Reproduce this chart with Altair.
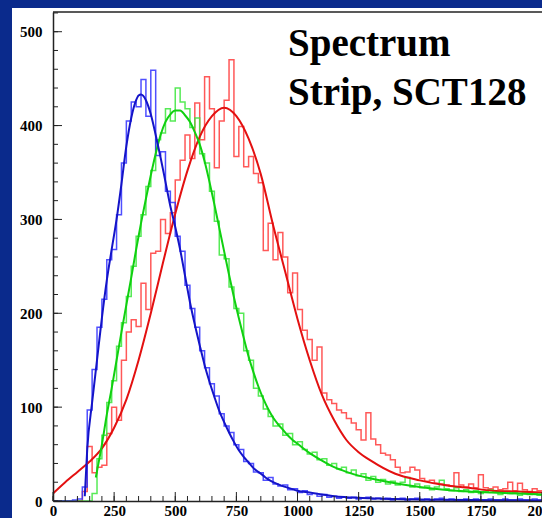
import altair as alt
import pandas as pd

# ---------------- data ----------------
bin_left = list(range(0, 2000, 20))   # 20-unit bins, 0 .. 1980
x_end = 2000

blue_counts = [
    0, 0, 0, 0, 1, 2, 15, 97, 140, 185,
    215, 257, 268, 305, 360, 405, 425, 420, 449, 410,
    459, 368, 372, 330, 318, 282, 266, 230, 205, 185,
    160, 142, 125, 112, 93, 80, 73, 60, 55, 42,
    40, 31, 30, 22, 25, 18, 16, 17, 12, 13,
    9, 11, 7, 8, 5, 7, 4, 5, 3, 4,
    3, 4, 2, 3, 4, 2, 3, 2, 3, 1,
    2, 3, 1, 2, 3, 1, 2, 1, 2, 3,
    1, 2, 1, 1, 2, 1, 2, 1, 1, 2,
    1, 1, 2, 1, 1, 2, 1, 1, 2, 1,
]
green_counts = [
    0, 0, 0, 0, 0, 0, 0, 0, 8, 45,
    70, 105, 128, 165, 190, 218, 250, 282, 305, 335,
    352, 385, 392, 418, 405, 440, 425, 418, 398, 408,
    370, 360, 330, 298, 262, 258, 228, 205, 200, 160,
    150, 120, 112, 98, 90, 80, 82, 70, 72, 60,
    63, 55, 50, 52, 44, 45, 38, 40, 34, 36,
    30, 33, 27, 29, 22, 26, 20, 23, 18, 21,
    17, 20, 25, 15, 18, 14, 16, 12, 15, 22,
    13, 11, 14, 10, 12, 9, 11, 8, 10, 12,
    9, 7, 10, 8, 9, 6, 9, 7, 8, 6,
]
red_counts = [
    0, 0, 0, 0, 0, 0, 10, 58, 30, 36,
    38, 72, 100, 86, 150, 180, 193, 186, 232, 204,
    264, 266, 300, 285, 307, 342, 363, 390, 365, 424,
    385, 452, 418, 355, 405, 427, 470, 367, 399, 356,
    367, 349, 339, 267, 296, 257, 286, 260, 222, 243,
    204, 182, 172, 150, 164, 115, 108, 104, 97, 94,
    88, 83, 76, 65, 94, 66, 60, 51, 49, 44,
    36, 30, 31, 36, 33, 24, 21, 22, 19, 18,
    17, 16, 30, 17, 15, 18, 14, 28, 14, 13,
    15, 12, 13, 20, 11, 19, 12, 10, 13, 11,
]

blue_fit_x = [130, 140, 160, 180, 200, 220, 240, 260, 280, 300, 320, 340, 350, 360, 380,
              400, 420, 440, 460, 480, 500, 520, 540, 560, 580, 600, 620, 640, 660, 680,
              700, 720, 740, 760, 780, 800, 820, 840, 860, 880, 900, 950, 1000, 1050, 1100,
              1150, 1200, 1300, 1400, 1600, 1800, 2000]
blue_fit_y = [5, 55, 105, 150, 195, 235, 268, 300, 338, 378, 408, 427, 432, 433, 427,
              412, 390, 366, 340, 314, 292, 268, 240, 212, 188, 166, 145, 127, 111, 96,
              84, 73, 63, 54, 47, 41, 35, 31, 27, 23, 20, 15, 11, 9, 7,
              5, 4, 3, 2, 1.3, 0.8, 0.5]

green_fit_x = [175, 200, 220, 240, 260, 280, 300, 320, 340, 360, 380, 400, 420, 440, 460,
               480, 500, 520, 540, 560, 580, 600, 620, 640, 660, 680, 700, 720, 740, 760,
               780, 800, 820, 840, 860, 880, 900, 920, 940, 960, 980, 1000, 1050, 1100,
               1150, 1200, 1250, 1300, 1400, 1500, 1600, 1700, 1800, 1900, 2000]
green_fit_y = [25, 60, 92, 120, 150, 180, 209, 238, 268, 296, 322, 347, 370, 390, 404,
               412, 416, 416, 411, 404, 393, 380, 362, 340, 316, 291, 266, 241, 217, 195,
               174, 154, 137, 122, 109, 98, 89, 82, 76, 70, 65, 61, 51, 43,
               36, 31, 27, 24, 19, 15, 12, 10, 9, 8, 7]

red_fit_x = [0, 50, 100, 150, 200, 250, 300, 350, 400, 450, 500, 550, 600, 650, 700,
             750, 800, 850, 900, 950, 1000, 1050, 1100, 1150, 1200, 1250, 1300, 1400,
             1500, 1600, 1700, 1800, 1900, 2000]
red_fit_y = [8, 20, 31, 42, 56, 78, 108, 150, 200, 254, 306, 352, 388, 410, 419,
             410, 386, 348, 294, 244, 194, 150, 113, 86, 65, 52, 43, 29,
             22, 17, 14, 11, 10, 9]

x_ticks = [0, 250, 500, 750, 1000, 1250, 1500, 1750, 2000]
y_ticks = [0, 100, 200, 300, 400, 500]
x_minor = list(range(0, 2001, 50))
y_minor = list(range(0, 521, 20))

title_lines = ["Spectrum", "Strip, SCT128"]

# ---------------- layout / style ----------------
W, H = 489, 489
PAD_L, PAD_T, PAD_R, PAD_B = 53, 12, 0, 17
BG_BLUE = "#0a2a8c"
FONT = "Liberation Serif"
LABEL_SIZE = 15

xs = alt.Scale(domain=[0, 2000], nice=False, zero=False)
ys = alt.Scale(domain=[0, 521], nice=False, zero=False)

x_axis = alt.Axis(values=x_ticks, format="d", labelFont=FONT, labelFontWeight="bold",
                  labelFontSize=LABEL_SIZE, labelColor="black", ticks=False, domain=True,
                  domainColor="#222222", domainWidth=1.5, grid=False, title=None,
                  labelFlush=False, labelPadding=2, labelOverlap=False, zindex=2)
y_axis = alt.Axis(values=y_ticks, format="d", labelFont=FONT, labelFontWeight="bold",
                  labelFontSize=LABEL_SIZE, labelColor="black", ticks=False, domain=True,
                  domainColor="#222222", domainWidth=1.5, grid=False, title=None,
                  labelFlush=False, labelPadding=11, labelOverlap=False, zindex=2)


def X(field):
    return alt.X(field, scale=xs, axis=x_axis)


def Y(field):
    return alt.Y(field, scale=ys, axis=y_axis)


def hist_df(counts):
    return pd.DataFrame({"x": bin_left + [x_end], "y": counts + [counts[-1]]})


def fit_df(xv, yv):
    return pd.DataFrame({"x": xv, "y": yv})


one = pd.DataFrame({"a": [0]})

panel = alt.Chart(one).mark_rect(color="white").encode(
    x=alt.value(12 - PAD_L), x2=alt.value(W), y=alt.value(8 - PAD_T), y2=alt.value(H + PAD_B)
)

layers = [panel]

for counts, col in [(red_counts, "#ff3b3b"), (green_counts, "#3ae63a"), (blue_counts, "#3030ff")]:
    layers.append(
        alt.Chart(hist_df(counts)).mark_line(
            interpolate="step-after", strokeWidth=1.5, opacity=0.85, clip=True, color=col
        ).encode(x=X("x:Q"), y=Y("y:Q"))
    )

for xv, yv, col in [(red_fit_x, red_fit_y, "#e31010"), (green_fit_x, green_fit_y, "#10d010"),
                    (blue_fit_x, blue_fit_y, "#1414c8")]:
    layers.append(
        alt.Chart(fit_df(xv, yv)).mark_line(
            interpolate="monotone", strokeWidth=2, clip=True, color=col
        ).encode(x=X("x:Q"), y=Y("y:Q"))
    )

tick_col = "#222222"
layers.append(alt.Chart(pd.DataFrame({"x": x_minor})).mark_rule(color=tick_col, strokeWidth=1).encode(
    x=X("x:Q"), y=alt.value(H), y2=alt.value(H - 5)))
layers.append(alt.Chart(pd.DataFrame({"x": x_ticks})).mark_rule(color=tick_col, strokeWidth=1).encode(
    x=X("x:Q"), y=alt.value(H), y2=alt.value(H - 9)))
layers.append(alt.Chart(pd.DataFrame({"y": y_minor})).mark_rule(color=tick_col, strokeWidth=1).encode(
    y=Y("y:Q"), x=alt.value(0), x2=alt.value(5)))
layers.append(alt.Chart(pd.DataFrame({"y": y_ticks})).mark_rule(color=tick_col, strokeWidth=1).encode(
    y=Y("y:Q"), x=alt.value(0), x2=alt.value(9)))

# top frame line
layers.append(alt.Chart(one).mark_rule(color=tick_col, strokeWidth=1.5).encode(
    x=alt.value(0), x2=alt.value(W), y=alt.value(0)))

# title text
for line, ypos in zip(title_lines, [56, 105]):
    layers.append(alt.Chart(one).mark_text(
        align="left", baseline="alphabetic", font=FONT, fontWeight="bold",
        fontSize=39, color="black"
    ).encode(x=alt.value(288 - PAD_L), y=alt.value(ypos - PAD_T), text=alt.value(line)))

chart = alt.layer(*layers).properties(
    width=W, height=H,
    background=BG_BLUE,
    padding={"left": PAD_L, "top": PAD_T, "right": PAD_R, "bottom": PAD_B},
    autosize=alt.AutoSizeParams(type="none"),
).configure_view(stroke=None)

chart.save("out.html", embed_options={"renderer": "svg", "actions": False})
